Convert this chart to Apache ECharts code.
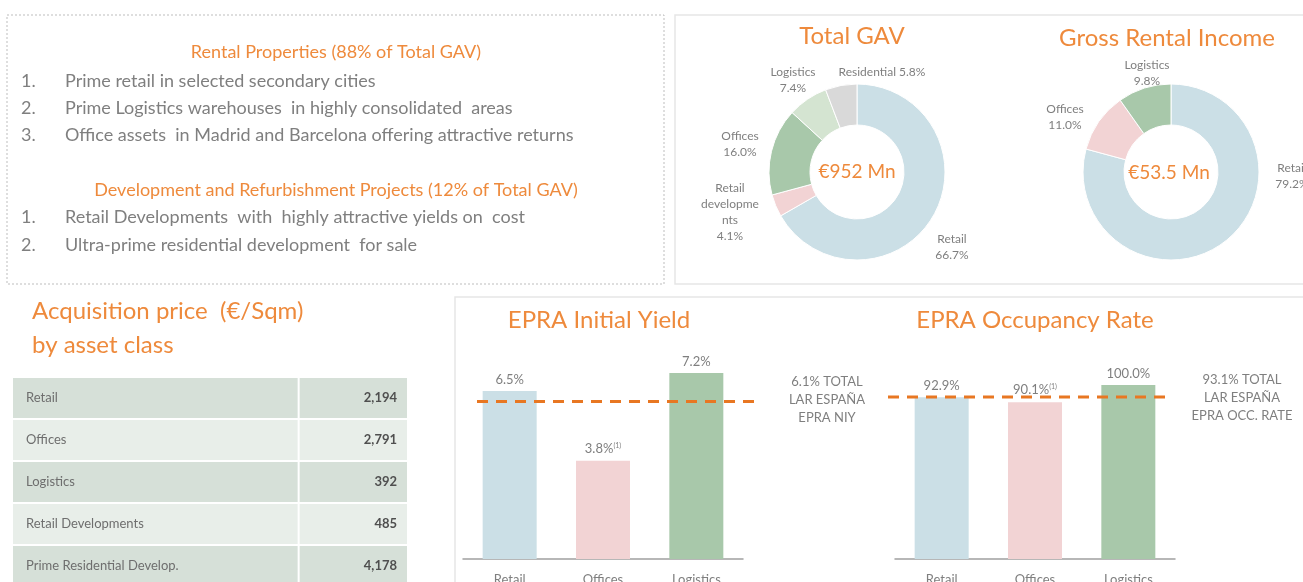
<!DOCTYPE html>
<html>
<head>
<meta charset="utf-8">
<script src="https://cdn.jsdelivr.net/npm/echarts@6/dist/echarts.min.js"></script>
<style>
  html, body { margin: 0; padding: 0; background: #fff; }
  #main { width: 1303px; height: 582px; }
</style>
</head>
<body>
<div id="main"></div>
<script>
// data
var rentalItems = ['Prime retail in selected secondary cities',
                   'Prime Logistics warehouses  in highly consolidated  areas',
                   'Office assets  in Madrid and Barcelona offering attractive returns'];
var devItems = ['Retail Developments  with  highly attractive yields on  cost',
                'Ultra-prime residential development  for sale'];

var gavNames = ['Retail', 'Retail developments', 'Offices', 'Logistics', 'Residential'];
var gavLabels = ['Retail', 'Retail\ndevelopme\nnts', 'Offices', 'Logistics', 'Residential'];
var gavShares = [66.7, 4.1, 16.0, 7.4, 5.8];
var griNames = ['Retail', 'Offices', 'Logistics'];
var griShares = [79.2, 11.0, 9.8];

var tableNames = ['Retail', 'Offices', 'Logistics', 'Retail Developments', 'Prime Residential Develop.'];
var tablePrices = [2194, 2791, 392, 485, 4178];

var barCats = ['Retail', 'Offices', 'Logistics'];
var niyValues = [6.5, 3.8, 7.2];
var niyNotes = ['', '(1)', ''];
var niyTotal = 6.1;
var occValues = [92.9, 90.1, 100.0];
var occNotes = ['', '(1)', ''];
var occTotal = 93.1;

// colours
var orange = '#EE8A3C';
var grey = '#7F7F7F';
var catColors = { 'Retail': '#CBDFE6', 'Retail developments': '#F2D3D4', 'Offices': '#F2D3D4', 'Logistics': '#A8C8AA', 'Residential': '#D9D9D9' };
var gavColors = ['#CBDFE6', '#F2D3D4', '#A8C8AA', '#D4E4D1', '#D9D9D9'];
var font = 'Lato, "Open Sans", sans-serif';

var chart = echarts.init(document.getElementById('main'));

// label spots around the donuts (layout only)
var gavLabelPos = [[952, 247], [730, 212], [740, 144], [793, 80], [882, 72]];
var griLabelPos = [[1292, 176], [1065, 117], [1147, 73]];

// text box on the top left
var graphics = [
  { type: 'rect', shape: { x: 7, y: 15, width: 657, height: 269 },
    style: { fill: 'none', stroke: '#BDBDBD', lineWidth: 1, lineDash: [2, 2] } },
  { type: 'rect', shape: { x: 675, y: 15, width: 640, height: 269 },
    style: { fill: 'none', stroke: '#E6E6E6', lineWidth: 1.5 } },
  { type: 'rect', shape: { x: 455, y: 297, width: 860, height: 300 },
    style: { fill: 'none', stroke: '#E6E6E6', lineWidth: 1.5 } },
  { type: 'text', x: 336, y: 52, style: { text: 'Rental Properties (88% of Total GAV)', fill: orange,
    font: '18px ' + font, align: 'center', verticalAlign: 'middle' } },
  { type: 'text', x: 336, y: 190, style: { text: 'Development and Refurbishment Projects (12% of Total GAV)', fill: orange,
    font: '18px ' + font, align: 'center', verticalAlign: 'middle' } }
];
rentalItems.forEach(function (t, i) {
  graphics.push({ type: 'text', x: 21, y: 81 + i * 27, style: { text: (i + 1) + '.', fill: grey, font: '18px ' + font, verticalAlign: 'middle' } });
  graphics.push({ type: 'text', x: 65, y: 81 + i * 27, style: { text: t, fill: grey, font: '18px ' + font, verticalAlign: 'middle' } });
});
devItems.forEach(function (t, i) {
  graphics.push({ type: 'text', x: 21, y: 217 + i * 28, style: { text: (i + 1) + '.', fill: grey, font: '18px ' + font, verticalAlign: 'middle' } });
  graphics.push({ type: 'text', x: 65, y: 217 + i * 28, style: { text: t, fill: grey, font: '18px ' + font, verticalAlign: 'middle' } });
});

function bigTitle(text, left, top, align) {
  return { text: text, left: left, top: top, textAlign: align || 'center', padding: 0,
    textStyle: { color: orange, fontSize: 24, fontWeight: 'normal', fontFamily: font, lineHeight: 34 } };
}
function noteTitle(text, left, top, size, color) {
  return { text: text, left: left, top: top, textAlign: 'center', padding: 0,
    textStyle: { color: color, fontSize: size, fontWeight: 'normal', fontFamily: font, lineHeight: 18, align: 'center' } };
}

// table row painter
function renderRow(params, api) {
  var cs = params.coordSys;
  var idx = api.value(0);
  var mid = api.coord([0, idx])[1];
  var h = api.size([0, 1])[1];
  var top = mid - h / 2;
  var split = api.coord([0.725, idx])[0];
  var fill = idx % 2 === 0 ? '#D6E0D8' : '#E8EEE9';
  return { type: 'group', children: [
    { type: 'rect', shape: { x: cs.x, y: top + 1, width: split - cs.x - 1, height: h - 2 }, style: { fill: fill } },
    { type: 'rect', shape: { x: split + 1, y: top + 1, width: cs.x + cs.width - split - 1, height: h - 2 }, style: { fill: fill } },
    { type: 'text', x: cs.x + 13, y: mid, style: { text: tableNames[idx], fill: '#6E6E6E', font: '13px ' + font, verticalAlign: 'middle' } },
    { type: 'text', x: cs.x + cs.width - 10, y: mid, style: { text: api.value(1).toLocaleString('en-US'), fill: '#4F4F4F',
      font: 'bold 13px ' + font, align: 'right', verticalAlign: 'middle' } }
  ] };
}

function barData(values, notes) {
  return values.map(function (v, i) {
    return { value: v, note: notes[i], itemStyle: { color: catColors[barCats[i]] } };
  });
}
function barLabelFmt() {
  return function (p) {
    var s = '{v|' + p.value.toFixed(1) + '%}';
    if (p.data.note) s += '{s|' + p.data.note + '}';
    return s;
  };
}
var barLabel = {
  show: true, position: 'top', distance: 5, color: grey, fontFamily: font, fontSize: 13,
  rich: { v: { color: grey, fontSize: 13, fontFamily: font }, s: { color: grey, fontSize: 7, fontFamily: font, verticalAlign: 'top', padding: [0, 0, 7, 0] } }
};
function catAxis(gridIndex) {
  return { type: 'category', gridIndex: gridIndex, data: barCats,
    axisLine: { lineStyle: { color: '#A0A0A0', width: 1.5 } }, axisTick: { show: false },
    axisLabel: { color: grey, fontSize: 13, fontFamily: font, margin: 14 } };
}
function hiddenVal(gridIndex, min, max) {
  return { type: 'value', gridIndex: gridIndex, min: min, max: max, show: false, splitLine: { show: false } };
}
function box(left, top, width, height) {
  return { left: left, top: top, width: width, height: height, outerBoundsMode: 'none', containLabel: false };
}

var pieLabel = { color: grey, fontSize: 12, fontFamily: font, lineHeight: 16, align: 'center', overflow: 'none' };

var option = {
  backgroundColor: '#fff',
  animation: false,
  graphic: graphics,
  title: [
    bigTitle('Total GAV', 852, 19),
    bigTitle('Gross Rental Income', 1167, 21),
    bigTitle('Acquisition price  (€/Sqm)\nby asset class', 32, 294, 'left'),
    bigTitle('EPRA Initial Yield', 599, 303),
    bigTitle('EPRA Occupancy Rate', 1035, 303),
    { text: '€952 Mn', left: 857, top: 162, textAlign: 'center', padding: 0,
      textStyle: { color: orange, fontSize: 19, fontWeight: 'normal', fontFamily: font } },
    { text: '€53.5 Mn', left: 1169, top: 163, textAlign: 'center', padding: 0,
      textStyle: { color: orange, fontSize: 19, fontWeight: 'normal', fontFamily: font } },
    noteTitle(niyTotal.toFixed(1) + '% TOTAL\nLAR ESPAÑA\nEPRA NIY', 827, 373, 13, grey),
    noteTitle(occTotal.toFixed(1) + '% TOTAL\nLAR ESPAÑA\nEPRA OCC. RATE', 1242, 371, 13, grey)
  ],
  grid: [
    box(13, 377, 394, 210),       // table
    box(463, 352.3, 280, 206.7),  // NIY bars
    box(477, 352.3, 285, 206.7),  // NIY total line
    box(895, 367.6, 280, 191.4),  // occupancy bars
    box(888, 367.6, 285, 191.4)   // occupancy total line
  ],
  xAxis: [
    hiddenVal(0, 0, 1),
    catAxis(1),
    hiddenVal(2, 0, 1),
    catAxis(3),
    hiddenVal(4, 0, 1)
  ],
  yAxis: [
    { type: 'category', gridIndex: 0, data: tableNames, inverse: true, show: false },
    hiddenVal(1, 0, 8),
    hiddenVal(2, 0, 8),
    hiddenVal(3, 0, 110),
    hiddenVal(4, 0, 110)
  ],
  series: [
    { type: 'custom', xAxisIndex: 0, yAxisIndex: 0, renderItem: renderRow, encode: { y: 0 },
      data: tablePrices.map(function (v, i) { return [i, v]; }) },
    { type: 'bar', xAxisIndex: 1, yAxisIndex: 1, barWidth: 54, data: barData(niyValues, niyNotes),
      label: Object.assign({ formatter: barLabelFmt() }, barLabel) },
    { type: 'line', xAxisIndex: 2, yAxisIndex: 2, symbol: 'none', silent: true,
      lineStyle: { color: '#E87722', width: 3, type: [11, 8] },
      data: [[0, niyTotal], [1, niyTotal]] },
    { type: 'bar', xAxisIndex: 3, yAxisIndex: 3, barWidth: 54, data: barData(occValues, occNotes),
      label: Object.assign({ formatter: barLabelFmt() }, barLabel) },
    { type: 'line', xAxisIndex: 4, yAxisIndex: 4, symbol: 'none', silent: true,
      lineStyle: { color: '#E87722', width: 3, type: [11, 8] },
      data: [[0, occTotal], [1, occTotal]] },
    { type: 'pie', center: [857, 172], radius: [47, 88], startAngle: 90, clockwise: true,
      itemStyle: { borderColor: '#fff', borderWidth: 1 },
      data: gavShares.map(function (v, i) { return { name: gavNames[i], value: v, itemStyle: { color: gavColors[i] } }; }),
      label: Object.assign({
        formatter: function (p) {
          var lab = gavLabels[p.dataIndex];
          return lab === 'Residential' ? lab + ' ' + p.value.toFixed(1) + '%' : lab + '\n' + p.value.toFixed(1) + '%';
        } }, pieLabel),
      labelLine: { show: false },
      labelLayout: function (p) {
        var pos = gavLabelPos[p.dataIndex];
        return { x: pos[0], y: pos[1], align: 'center', verticalAlign: 'middle' };
      } },
    { type: 'pie', center: [1171, 172], radius: [47, 88], startAngle: 90, clockwise: true,
      itemStyle: { borderColor: '#fff', borderWidth: 1 },
      data: griShares.map(function (v, i) { return { name: griNames[i], value: v, itemStyle: { color: catColors[griNames[i]] } }; }),
      label: Object.assign({
        formatter: function (p) { return p.name + '\n' + p.value.toFixed(1) + '%'; } }, pieLabel),
      labelLine: { show: false },
      labelLayout: function (p) {
        var pos = griLabelPos[p.dataIndex];
        return { x: pos[0], y: pos[1], align: 'center', verticalAlign: 'middle' };
      } }
  ]
};

chart.setOption(option);
</script>
</body>
</html>
